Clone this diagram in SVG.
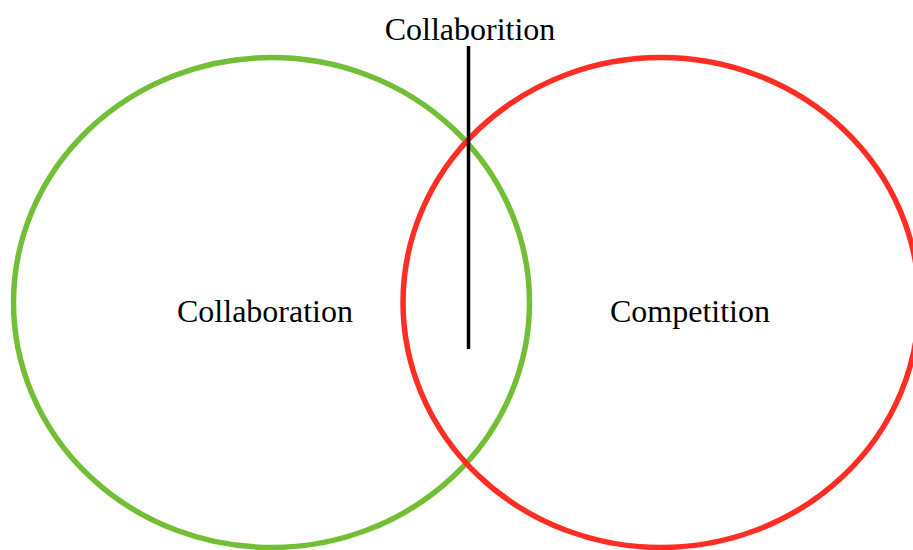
<svg xmlns="http://www.w3.org/2000/svg" width="913" height="550" viewBox="0 0 913 550">
<style>
.lbl{font-family:"Liberation Serif","Times New Roman",serif;font-size:32px;fill:#000;text-anchor:middle}
.ring{fill:none;stroke-width:5.5}
</style>
<rect width="913" height="550" fill="#fff"/>
<g id="collaboration">
<ellipse class="ring" cx="271.5" cy="302.5" rx="258" ry="245" stroke="#72bf36"/>
<text class="lbl" x="265" y="322">Collaboration</text>
</g>
<g id="competition">
<ellipse class="ring" cx="661" cy="302.5" rx="258" ry="245" stroke="#ff2d23"/>
<text class="lbl" x="690" y="322">Competition</text>
</g>
<g id="connectors">
<line x1="468.5" y1="46" x2="468.5" y2="349" stroke="#000" stroke-width="3.5"/>
</g>
<g id="collaborition">
<text class="lbl" x="470" y="40">Collaborition</text>
</g>
</svg>
